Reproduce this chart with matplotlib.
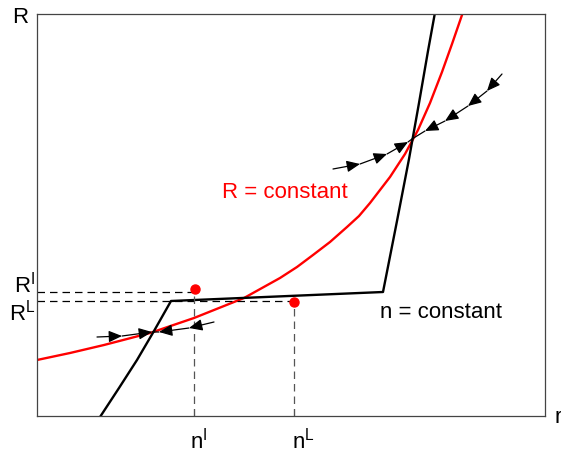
import numpy as np
import matplotlib
matplotlib.use('Agg')
import matplotlib.pyplot as plt

plt.rcParams['font.family'] = ['Liberation Sans', 'DejaVu Sans']
plt.rcParams['mathtext.default'] = 'regular'

# R = constant curve (red)
red_x = [0, 33, 67, 113, 157, 182, 207, 225, 243, 260, 276, 293, 310, 322, 333,
         353, 368, 381, 393, 405, 415, 425, 433]
red_y = [56, 63, 71, 83, 98, 108, 118, 128, 138, 149, 161, 174, 189, 200, 213,
         239, 262, 286, 313, 344, 372, 401, 425]

# n = constant curve (black, kinked)
blk_x = [60, 63, 82, 100, 117, 134, 346, 360, 372, 382, 391, 399]
blk_y = [-5, -1, 28, 56, 85, 115, 124, 195, 257, 313, 365, 409]

# special levels
nI, nL = 157, 257
RI, RL = 124, 115
dot_x = [158, 257]
dot_y = [127, 114]

# trajectories (points, and whether the segment ending there has a head)
traj = [
    ([60, 85, 115], [79, 80, 84], [True, True]),
    ([177, 152, 122, 115], [94, 88, 84, 84], [True, True, False]),
    ([296, 323, 350, 371, 375], [247, 252, 262, 274, 277], [True, True, True, False]),
    ([465, 450, 431, 408, 388, 375], [342, 325, 310, 295, 285, 277], [True, True, True, True, False]),
]

fig = plt.figure(figsize=(5.61, 4.52), dpi=100)
ax = fig.add_axes([37/561, 1-417/452, 508/561, 402/452])
ax.set_xlim(0, 508)
ax.set_ylim(0, 402)

ax.plot(red_x, red_y, color='red', lw=1.7)
ax.plot(blk_x, blk_y, color='black', lw=1.7)

# dashed guide lines
ax.plot([0, nI], [RI, RI], color='black', lw=0.9, ls=(0, (6, 4)))
ax.plot([0, nL], [RL, RL], color='black', lw=0.9, ls=(0, (6, 4)))
ax.plot([nI, nI], [0, RI], color='#555555', lw=0.9, ls=(0, (6, 4)))
ax.plot([nL, nL], [0, dot_y[1]], color='#555555', lw=0.9, ls=(0, (6, 4)))
ax.plot(dot_x, dot_y, 'o', color='red', ms=6.5, zorder=5)

# arrows
for xs, ys, heads in traj:
    for i in range(1, len(xs)):
        if heads[i-1]:
            style = '-|>,head_length=0.8,head_width=0.35'
        else:
            style = '-'
        ax.annotate('', xy=(xs[i], ys[i]), xytext=(xs[i-1], ys[i-1]),
                    arrowprops=dict(arrowstyle=style, color='black', lw=0.9,
                                    shrinkA=0, shrinkB=0, mutation_scale=10))

ax.text(248, 224, 'R = constant', color='red', fontsize=16, ha='center', va='center')
ax.text(343, 104, 'n = constant', color='black', fontsize=16, ha='left', va='center')

# axis labels and level labels
ax.text(-17, 394, 'R', fontsize=16, ha='center', va='baseline', clip_on=False)
ax.text(518, -6, 'r', fontsize=16, ha='left', va='baseline', clip_on=False)
ax.text(-2, 125, r'$R^I$', fontsize=16, ha='right', va='baseline', clip_on=False)
ax.text(-2, 97, r'$R^L$', fontsize=16, ha='right', va='baseline', clip_on=False)
ax.text(162, -31, r'$n^I$', fontsize=16, ha='center', va='baseline', clip_on=False)
ax.text(266, -31, r'$n^L$', fontsize=16, ha='center', va='baseline', clip_on=False)

ax.set_xticks([nI, nL])
ax.set_xticklabels([])
ax.set_yticks([])
ax.tick_params(axis='x', direction='in', length=5, color='#444444')
for s in ax.spines.values():
    s.set_color('#444444')
    s.set_linewidth(0.9)

fig.savefig('out.png', dpi=100)
